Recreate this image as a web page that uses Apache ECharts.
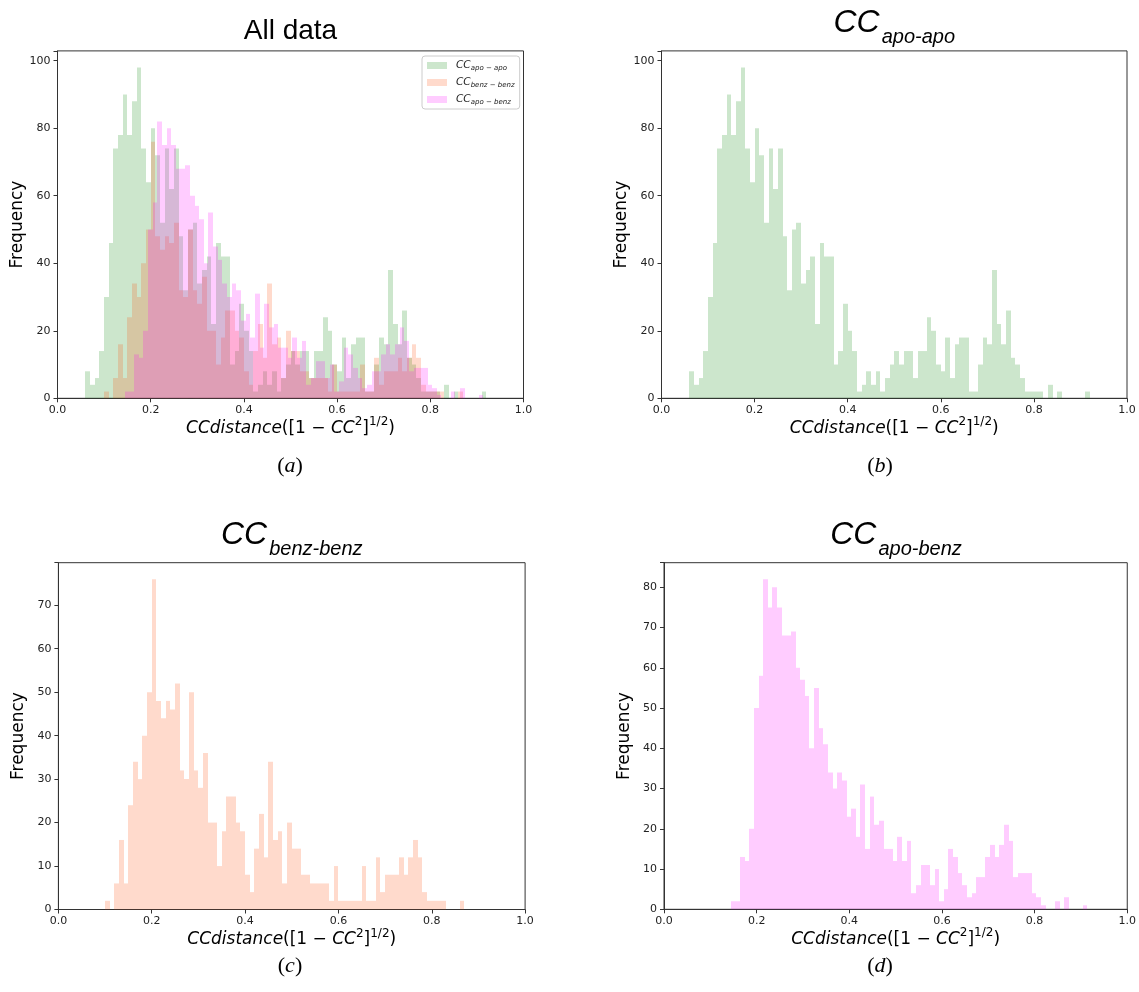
<!DOCTYPE html>
<html><head><meta charset="utf-8">
<script src="https://cdn.jsdelivr.net/npm/echarts@6/dist/echarts.min.js"></script>
<style>html,body{margin:0;padding:0;background:#fff}#chart{width:1139px;height:992px}</style>
</head><body><div id="chart"></div>
<script>
// ---------------- data (histogram counts, bin width 0.01) ----------------
const BIN_WIDTH = 0.01;
const xTickLabels = ['0.0', '0.2', '0.4', '0.6', '0.8', '1.0'];

// CC apo-apo : bins starting at 0.06
const apoApoFirstBin = 0.06;
const apoApoCounts = [
  8, 4, 6, 14, 30, 46, 74, 78, 90, 78,
  88, 98, 74, 64, 80, 72, 52, 74, 62, 74,
  48, 32, 50, 52, 34, 38, 42, 22, 46, 42,
  42, 10, 14, 28, 20, 14, 2, 4, 8, 4,
  8, 2, 6, 10, 14, 10, 14, 14, 6, 14,
  14, 24, 20, 10, 8, 18, 6, 16, 18, 18,
  2, 2, 10, 18, 16, 38, 22, 16, 26, 12,
  10, 6, 2, 2, 2, 2, 0, 4, 0, 2,
  0, 0, 0, 0, 0, 2
];

// CC benz-benz : bins starting at 0.10
const benzBenzFirstBin = 0.10;
const benzBenzCounts = [
  2, 0, 6, 16, 6, 24, 34, 30, 40, 50,
  76, 48, 44, 48, 46, 52, 32, 30, 50, 32,
  28, 36, 20, 20, 10, 18, 26, 26, 20, 18,
  8, 4, 14, 22, 12, 34, 16, 18, 6, 20,
  14, 14, 8, 8, 6, 6, 6, 6, 2, 10,
  2, 2, 2, 2, 2, 10, 2, 2, 12, 4,
  8, 8, 8, 12, 8, 12, 16, 12, 4, 2,
  2, 2, 2, 0, 0, 0, 2
];

// CC apo-benz : bins starting at 0.144
const apoBenzFirstBin = 0.144;
const apoBenzCounts = [
  2, 2, 13, 12, 20, 50, 58, 82, 75, 80,
  75, 68, 68, 69, 60, 57, 53, 40, 55, 45,
  41, 34, 30, 34, 32, 23, 25, 18, 31, 15,
  28, 21, 22, 15, 15, 12, 18, 12, 17, 4,
  6, 11, 11, 6, 10, 2, 5, 15, 13, 9,
  6, 3, 4, 8, 8, 13, 16, 13, 16, 21,
  17, 8, 9, 9, 9, 4, 3, 1, 0, 0,
  2, 0, 3, 0, 0, 0, 1
];

// ---------------- styles ----------------
const GREEN = 'rgba(0,128,0,0.2)';
const SALMON = 'rgba(255,69,0,0.2)';
const MAGENTA = 'rgba(255,0,255,0.2)';
const AXIS_COLOR = '#333';
const SANS = 'DejaVu Sans';
const TITLE_FONT = 'Liberation Sans';
const SERIF = 'Liberation Serif';

const GRIDS = [
  {left: 57.5, top: 50.9, width: 466, height: 347.4},
  {left: 661.5, top: 50.9, width: 465.5, height: 347.4},
  {left: 58.4, top: 562.7, width: 466.7, height: 346.8},
  {left: 664, top: 562.7, width: 464, height: 346.6}
];
const allMax = Math.max(...apoApoCounts, ...benzBenzCounts, ...apoBenzCounts);
const Y_MAX = [allMax * 1.05, Math.max(...apoApoCounts) * 1.05,
  Math.max(...benzBenzCounts) * 1.05, Math.max(...apoBenzCounts) * 1.05];
const Y_INTERVAL = [20, 20, 10, 10];

function binData(first, counts) {
  return counts.map((c, i) => [first + i * BIN_WIDTH, first + (i + 1) * BIN_WIDTH, c]);
}
function hist(name, first, counts, color, idx) {
  return {
    type: 'custom', name: name, xAxisIndex: idx, yAxisIndex: idx, z: 2, silent: true,
    itemStyle: {color: color},
    encode: {x: [0, 1], y: 2},
    data: binData(first, counts),
    renderItem: function (params, api) {
      const v = api.value(2);
      if (!v) return;
      const a = api.coord([api.value(0), v]);
      const b = api.coord([api.value(1), 0]);
      const x0 = Math.round(a[0]), x1 = Math.round(b[0]);
      return {type: 'rect', shape: {x: x0, y: a[1], width: x1 - x0, height: b[1] - a[1]},
        style: {fill: color}};
    }
  };
}

const xNameRich = {
  i: {fontFamily: SANS, fontStyle: 'italic', fontSize: 17, lineHeight: 24, color: '#000'},
  n: {fontFamily: SANS, fontSize: 17, lineHeight: 24, color: '#000'},
  s: {fontFamily: SANS, fontSize: 12, lineHeight: 12, verticalAlign: 'top', color: '#000'}
};
const X_NAME = '{i|CCdistance}{n|([1 − }{i|CC}{s|2}{n|]}{s|1/2}{n|)}';

const xAxes = GRIDS.map((g, k) => ({
  gridIndex: k, type: 'value', min: 0, max: 1, interval: 0.2,
  axisLine: {show: true, onZero: false, lineStyle: {color: AXIS_COLOR, width: 1}},
  axisTick: {show: true, length: 4, lineStyle: {color: AXIS_COLOR}},
  axisLabel: {fontFamily: SANS, fontSize: 11, color: '#222', margin: 6,
    formatter: v => xTickLabels[Math.round(v / 0.2)] || ''},
  splitLine: {show: false},
  name: X_NAME, nameLocation: 'middle', nameGap: 18,
  nameTextStyle: {rich: xNameRich, fontFamily: SANS, fontSize: 17, color: '#000'}
}));
const yAxes = GRIDS.map((g, k) => ({
  gridIndex: k, type: 'value', min: 0, max: Y_MAX[k], interval: Y_INTERVAL[k],
  axisLine: {show: true, lineStyle: {color: AXIS_COLOR, width: 1}},
  axisTick: {show: true, length: 4, lineStyle: {color: AXIS_COLOR}},
  axisLabel: {fontFamily: SANS, fontSize: 11, color: '#222', margin: 7,
    formatter: v => (Math.abs(v / Y_INTERVAL[k] - Math.round(v / Y_INTERVAL[k])) < 1e-6 ? String(Math.round(v)) : '')},
  splitLine: {show: false},
  name: 'Frequency', nameLocation: 'middle', nameGap: 31,
  nameTextStyle: {fontFamily: SANS, fontSize: 17, color: '#000'}
}));

// ---------------- titles (measured for centering) ----------------
const mctx = document.createElement('canvas').getContext('2d');
function textW(font, s) { mctx.font = font; return mctx.measureText(s).width; }
const CC_FONT = 'italic 32px ' + TITLE_FONT;
const SUB_FONT = 'italic 20px ' + TITLE_FONT;
function ccTitle(center, ccBaseline, sub) {
  const w1 = textW(CC_FONT, 'CC'), w2 = textW(SUB_FONT, sub), gap = 2;
  const left = center - (w1 + gap + w2) / 2;
  return [
    {type: 'text', x: left, y: ccBaseline - 0.3465 * 32,
      style: {text: 'CC', font: CC_FONT, fill: '#000', align: 'left', verticalAlign: 'middle'}},
    {type: 'text', x: left + w1 + gap, y: ccBaseline + 10 - 0.3465 * 20,
      style: {text: sub, font: SUB_FONT, fill: '#000', align: 'left', verticalAlign: 'middle'}}
  ];
}
function panelLabel(cx, cy, letter) {
  return {type: 'text', x: cx, y: cy,
    style: {text: '(' + '{i|' + letter + '}' + ')', font: '22px ' + SERIF, fill: '#000',
      align: 'center', verticalAlign: 'middle',
      rich: {i: {fontFamily: SERIF, fontStyle: 'italic', fontSize: 22}}}};
}
const centers = GRIDS.map(g => g.left + g.width / 2);

const graphics = [
  {type: 'text', x: centers[0], y: 41 - 0.3465 * 28,
    style: {text: 'All data', font: '28px ' + TITLE_FONT, fill: '#000', align: 'center', verticalAlign: 'middle'}},
  ...ccTitle(centers[1], 34, 'apo-apo'),
  ...ccTitle(centers[2], 546, 'benz-benz'),
  ...ccTitle(centers[3], 546, 'apo-benz'),
  panelLabel(290, 466, 'a'),
  panelLabel(880, 466, 'b'),
  panelLabel(290, 966, 'c'),
  panelLabel(880, 966, 'd')
];

const legendRich = {
  cc: {fontFamily: SANS, fontStyle: 'italic', fontSize: 10.5, lineHeight: 13, color: '#222', padding: [0, 0, 0, 4]},
  sub: {fontFamily: SANS, fontStyle: 'italic', fontSize: 7, lineHeight: 7, verticalAlign: 'bottom', color: '#222'}
};
const legendText = {'apo-apo': '{cc|CC}{sub|apo − apo}', 'benz-benz': '{cc|CC}{sub|benz − benz}', 'apo-benz': '{cc|CC}{sub|apo − benz}'};

const option = {
  animation: false,
  backgroundColor: '#fff',
  textStyle: {fontFamily: SANS},
  grid: GRIDS.map(g => Object.assign({show: true, borderColor: AXIS_COLOR, borderWidth: 1, containLabel: false}, g)),
  xAxis: xAxes,
  yAxis: yAxes,
  legend: {
    data: ['apo-apo', 'benz-benz', 'apo-benz'],
    orient: 'vertical', left: 422, top: 56,
    icon: 'rect', itemWidth: 20, itemHeight: 7, itemGap: 4,
    padding: [3, 5, 3, 5],
    backgroundColor: 'rgba(255,255,255,0.8)', borderColor: '#ccc', borderWidth: 1, borderRadius: 3,
    selectedMode: false,
    formatter: name => legendText[name],
    textStyle: {rich: legendRich, fontSize: 10.5, lineHeight: 13}
  },
  graphic: graphics,
  series: [
    hist('apo-apo', apoApoFirstBin, apoApoCounts, GREEN, 0),
    hist('benz-benz', benzBenzFirstBin, benzBenzCounts, SALMON, 0),
    hist('apo-benz', apoBenzFirstBin, apoBenzCounts, MAGENTA, 0),
    hist('apo-apo only', apoApoFirstBin, apoApoCounts, GREEN, 1),
    hist('benz-benz only', benzBenzFirstBin, benzBenzCounts, SALMON, 2),
    hist('apo-benz only', apoBenzFirstBin, apoBenzCounts, MAGENTA, 3)
  ]
};
const chart = echarts.init(document.getElementById('chart'), null, {renderer: 'canvas', width: 1139, height: 992});
chart.setOption(option);
</script>
</body></html>
